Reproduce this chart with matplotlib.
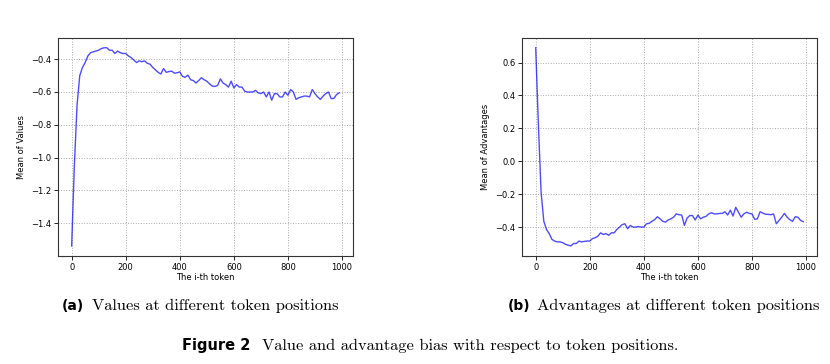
import matplotlib.pyplot as plt
import numpy as np

# token positions (every 10th token)
tokens = np.arange(0, 1000, 10)

values = [
    -1.54, -1.05, -0.68, -0.50, -0.45, -0.42, -0.38, -0.36, -0.355, -0.35,
    -0.345, -0.335, -0.33, -0.33, -0.345, -0.345, -0.365, -0.35, -0.36, -0.365,
    -0.365, -0.38, -0.39, -0.405, -0.42, -0.41, -0.415, -0.41, -0.425, -0.43,
    -0.45, -0.465, -0.48, -0.49, -0.457, -0.48, -0.475, -0.473, -0.485, -0.483,
    -0.477, -0.505, -0.51, -0.497, -0.525, -0.53, -0.545, -0.53, -0.513, -0.525,
    -0.534, -0.55, -0.564, -0.566, -0.56, -0.52, -0.545, -0.555, -0.57, -0.534,
    -0.575, -0.555, -0.57, -0.57, -0.595, -0.60, -0.60, -0.60, -0.59, -0.605,
    -0.61, -0.60, -0.63, -0.60, -0.65, -0.61, -0.61, -0.63, -0.63, -0.60,
    -0.62, -0.585, -0.60, -0.645, -0.635, -0.63, -0.625, -0.625, -0.63, -0.585,
    -0.61, -0.63, -0.645, -0.625, -0.61, -0.60, -0.64, -0.64, -0.615, -0.605,
]

advantages = [
    0.69, 0.22, -0.19, -0.365, -0.415, -0.44, -0.475, -0.485, -0.49, -0.49,
    -0.495, -0.505, -0.51, -0.515, -0.50, -0.50, -0.485, -0.49, -0.487, -0.485,
    -0.485, -0.47, -0.465, -0.455, -0.435, -0.445, -0.44, -0.45, -0.435, -0.435,
    -0.415, -0.40, -0.385, -0.38, -0.41, -0.39, -0.40, -0.40, -0.397, -0.40,
    -0.40, -0.38, -0.377, -0.365, -0.355, -0.337, -0.35, -0.365, -0.37, -0.357,
    -0.35, -0.34, -0.32, -0.325, -0.327, -0.39, -0.345, -0.33, -0.33, -0.357,
    -0.327, -0.35, -0.34, -0.335, -0.32, -0.313, -0.32, -0.32, -0.317, -0.317,
    -0.307, -0.327, -0.297, -0.333, -0.28, -0.31, -0.34, -0.32, -0.31, -0.317,
    -0.32, -0.353, -0.35, -0.307, -0.315, -0.322, -0.323, -0.325, -0.32, -0.38,
    -0.36, -0.34, -0.317, -0.34, -0.355, -0.365, -0.337, -0.34, -0.36, -0.367,
]

value_ticks = [-1.4, -1.2, -1.0, -0.8, -0.6, -0.4]
adv_ticks = [-0.4, -0.2, 0.0, 0.2, 0.4, 0.6]

fig = plt.figure(figsize=(8.3, 3.64), dpi=100)

panels = [
    ([0.0702, 0.297, 0.3547, 0.599], values, 'Mean of Values', value_ticks),
    ([0.6293, 0.297, 0.3547, 0.599], advantages, 'Mean of Advantages', adv_ticks),
]

for rect, data, ylab, yt in panels:
    ax = fig.add_axes(rect)
    ax.plot(tokens, data, color='blue', alpha=0.7, lw=1.0)
    ax.set_yticks(yt)
    ax.set_xticks([0, 200, 400, 600, 800, 1000])
    ax.grid(True, linestyle=':', color='#aaaaaa', lw=0.7)
    ax.set_xlabel('The i-th token', fontsize=6, labelpad=1)
    ax.set_ylabel(ylab, fontsize=6, labelpad=4)
    ax.tick_params(labelsize=6, length=3, width=0.6, pad=2)
    for s in ax.spines.values():
        s.set_color('#333333')
        s.set_linewidth(0.8)

# captions
fig.text(0.0747, 0.148, '(a)', fontsize=10, fontweight='bold', family='DejaVu Sans')
fig.text(0.111, 0.148, 'Values at different token positions', fontsize=11.8, family='cmr10')
fig.text(0.612, 0.148, '(b)', fontsize=10, fontweight='bold', family='DejaVu Sans')
fig.text(0.647, 0.148, 'Advantages at different token positions', fontsize=11.8, family='cmr10')

fig.text(0.219, 0.038, 'Figure 2', fontsize=10.5, fontweight='bold', family='DejaVu Sans')
fig.text(0.3157, 0.038, 'Value and advantage bias with respect to token positions.',
         fontsize=11.8, family='cmr10')

fig.savefig('out.png', dpi=100)
